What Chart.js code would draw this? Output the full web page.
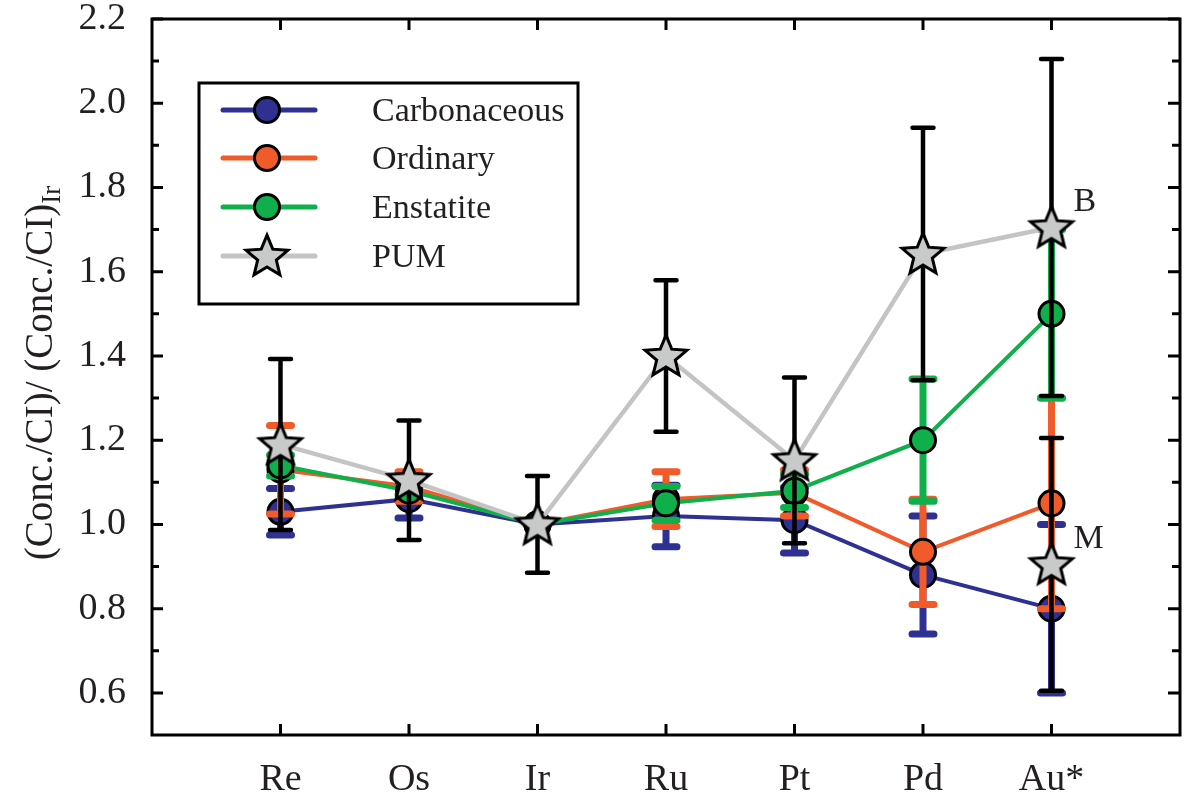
<!DOCTYPE html>
<html>
<head>
<meta charset="utf-8">
<style>
  html, body { margin: 0; padding: 0; background: #ffffff; }
  canvas { display: block; }
</style>
<script src="https://cdn.jsdelivr.net/npm/chart.js@4.4.1/dist/chart.umd.min.js"></script>
</head>
<body>
<canvas id="chart" width="1196" height="797"></canvas>
<script>
// Elements on the x axis, in plotting order
const categories = ['Re', 'Os', 'Ir', 'Ru', 'Pt', 'Pd', 'Au*'];

// Y axis tick values (labelled) and the unlabelled minor ticks between them
const yTickValues = [0.6, 0.8, 1.0, 1.2, 1.4, 1.6, 1.8, 2.0, 2.2];
const yMinorTickValues = [0.7, 0.9, 1.1, 1.3, 1.5, 1.7, 1.9, 2.1];

const seriesNames = ['Carbonaceous', 'Ordinary', 'Enstatite', 'PUM'];

// (Conc./CI)/(Conc./CI)Ir for each chondrite group, with 1-sigma errors
const carbonaceous    = [1.03, 1.06, 1.00, 1.02, 1.01, 0.88, 0.80];
const carbonaceousErr = [0.055, 0.045, 0, 0.073, 0.078, 0.14, 0.20];

const ordinary    = [1.13, 1.09, 1.00, 1.06, 1.075, 0.935, 1.05];
const ordinaryErr = [0.105, 0.035, 0, 0.065, 0.055, 0.125, 0.25];

const enstatite    = [1.14, 1.08, 1.00, 1.05, 1.08, 1.20, 1.50];
const enstatiteErr = [0.025, 0.01, 0, 0.04, 0.04, 0.145, 0.20];

// Primitive upper mantle; the Au* estimate is given twice (B and M)
const pum      = [1.19, 1.105, 1.00, 1.40, 1.152, 1.642, 1.705];
const pumErr   = [0.203, 0.142, 0.115, 0.18, 0.197, 0.30, 0.40];
const pumNotes = ['', '', '', '', '', '', 'B'];

const pumAlt      = [null, null, null, null, null, null, 0.905];
const pumAltErr   = [0, 0, 0, 0, 0, 0, 0.30];
const pumAltNotes = ['', '', '', '', '', '', 'M'];

const TEXT = '#231f20';
const SERIF = '"Liberation Serif", "Times New Roman", serif';

const toPoints = (arr) => arr.map((v, i) => ({ x: i, y: v }));

// Five-pointed star marker rendered once to an offscreen canvas
function makeStar(outerR, innerR, lw, fill) {
  const size = Math.ceil(2 * outerR + 2 * lw + 4);
  const c = document.createElement('canvas');
  c.width = size; c.height = size;
  const g = c.getContext('2d');
  const cx = size / 2, cy = size / 2 + outerR * 0.05;
  g.beginPath();
  for (let k = 0; k < 10; k++) {
    const r = k % 2 === 0 ? outerR : innerR;
    const a = -Math.PI / 2 + k * Math.PI / 5;
    const px = cx + r * Math.cos(a), py = cy + r * Math.sin(a);
    if (k === 0) g.moveTo(px, py); else g.lineTo(px, py);
  }
  g.closePath();
  g.fillStyle = fill;
  g.fill();
  g.lineJoin = 'miter';
  g.lineWidth = lw;
  g.strokeStyle = '#000000';
  g.stroke();
  return c;
}
const starMarker = makeStar(22, 9.8, 3, '#c8c9c9');

const COLORS = {
  blue: '#2e3192',
  orange: '#f15a29',
  green: '#0fb04b',
  gray: '#c4c4c4'
};

function circleSeries(label, values, errs, color, order) {
  return {
    label,
    data: toPoints(values),
    errors: errs,
    errorColor: color,
    errorWidth: 7,
    errorCapHalf: 11,
    borderColor: color,
    backgroundColor: color,
    borderWidth: 4,
    pointStyle: 'circle',
    pointRadius: 12.5,
    pointBorderWidth: 3,
    pointBorderColor: '#000000',
    pointBackgroundColor: color,
    order
  };
}

const datasets = [
  circleSeries(seriesNames[0], carbonaceous, carbonaceousErr, COLORS.blue, 5),
  circleSeries(seriesNames[1], ordinary, ordinaryErr, COLORS.orange, 4),
  circleSeries(seriesNames[2], enstatite, enstatiteErr, COLORS.green, 3),
  {
    label: seriesNames[3],
    data: toPoints(pum),
    errors: pumErr,
    errorColor: '#000000',
    errorWidth: 4.5,
    errorCapHalf: 10.5,
    notes: pumNotes,
    borderColor: COLORS.gray,
    backgroundColor: COLORS.gray,
    borderWidth: 4.5,
    pointStyle: starMarker,
    pointRadius: 22,
    order: 2
  },
  {
    label: 'PUM (M)',
    data: toPoints(pumAlt),
    errors: pumAltErr,
    errorColor: '#000000',
    errorWidth: 4.5,
    errorCapHalf: 10.5,
    notes: pumAltNotes,
    showLine: false,
    borderColor: COLORS.gray,
    backgroundColor: COLORS.gray,
    pointStyle: starMarker,
    pointRadius: 22,
    order: 1
  }
];

// Vertical error bars, drawn just before each dataset so markers sit on top
const errorBars = {
  id: 'errorBars',
  beforeDatasetDraw(chart, args) {
    const ds = chart.data.datasets[args.index];
    if (!ds.errors) return;
    const { ctx } = chart;
    const xs = chart.scales.x, ys = chart.scales.y;
    ctx.save();
    ctx.strokeStyle = ds.errorColor;
    ctx.lineWidth = ds.errorWidth;
    ds.data.forEach((p, i) => {
      const e = ds.errors[i];
      if (p.y == null || !e) return;
      const px = xs.getPixelForValue(p.x);
      const top = ys.getPixelForValue(p.y + e);
      const bot = ys.getPixelForValue(p.y - e);
      ctx.lineCap = 'butt';
      ctx.beginPath();
      ctx.moveTo(px, top); ctx.lineTo(px, bot);
      ctx.stroke();
      ctx.lineCap = 'round';
      ctx.beginPath();
      ctx.moveTo(px - ds.errorCapHalf, top); ctx.lineTo(px + ds.errorCapHalf, top);
      ctx.moveTo(px - ds.errorCapHalf, bot); ctx.lineTo(px + ds.errorCapHalf, bot);
      ctx.stroke();
    });
    ctx.restore();
  },
  afterDatasetsDraw(chart) {
    // letter notes beside annotated points
    const { ctx } = chart;
    const xs = chart.scales.x, ys = chart.scales.y;
    ctx.save();
    ctx.fillStyle = TEXT;
    ctx.font = `34px ${SERIF}`;
    ctx.textAlign = 'left';
    ctx.textBaseline = 'middle';
    chart.data.datasets.forEach((ds) => {
      if (!ds.notes) return;
      ds.data.forEach((p, i) => {
        const t = ds.notes[i];
        if (!t || p.y == null) return;
        ctx.fillText(t, xs.getPixelForValue(p.x) + 22, ys.getPixelForValue(p.y) - 25);
      });
    });
    ctx.restore();
  }
};

// Boxed frame with inward ticks on all four sides, y title and legend box
const frameTicks = {
  id: 'frameTicks',
  beforeDatasetsDraw(chart) {
    const { ctx, chartArea: a } = chart;
    const xs = chart.scales.x, ys = chart.scales.y;
    ctx.save();
    ctx.strokeStyle = '#000000';
    ctx.lineWidth = 3;
    ctx.lineCap = 'butt';
    ctx.strokeRect(a.left, a.top, a.right - a.left, a.bottom - a.top);
    ctx.beginPath();
    yTickValues.forEach((v) => {
      const py = ys.getPixelForValue(v);
      ctx.moveTo(a.left, py); ctx.lineTo(a.left + 11, py);
      ctx.moveTo(a.right, py); ctx.lineTo(a.right - 12, py);
    });
    yMinorTickValues.forEach((v) => {
      const py = ys.getPixelForValue(v);
      ctx.moveTo(a.left, py); ctx.lineTo(a.left + 7, py);
      ctx.moveTo(a.right, py); ctx.lineTo(a.right - 8, py);
    });
    categories.forEach((c, i) => {
      const px = xs.getPixelForValue(i);
      ctx.moveTo(px, a.bottom); ctx.lineTo(px, a.bottom - 11);
      ctx.moveTo(px, a.top); ctx.lineTo(px, a.top + 11);
    });
    ctx.stroke();
    ctx.restore();
  },
  afterDraw(chart) {
    const { ctx, chartArea: a } = chart;
    // rotated y-axis title with subscript
    ctx.save();
    const main = '(Conc./CI)/ (Conc./CI)';
    const sub = 'Ir';
    ctx.font = `39px ${SERIF}`;
    const w1 = ctx.measureText(main).width;
    ctx.font = `27px ${SERIF}`;
    const w2 = ctx.measureText(sub).width;
    ctx.translate(39, (a.top + a.bottom) / 2 - 4);
    ctx.rotate(-Math.PI / 2);
    ctx.fillStyle = TEXT;
    ctx.textBaseline = 'alphabetic';
    ctx.textAlign = 'left';
    const start = -(w1 + w2) / 2;
    ctx.font = `39px ${SERIF}`;
    ctx.fillText(main, start, 13);
    ctx.font = `27px ${SERIF}`;
    ctx.fillText(sub, start + w1, 21);
    ctx.restore();

    // legend box
    ctx.save();
    const box = { l: 199, t: 83, r: 578, b: 304 };
    ctx.fillStyle = '#ffffff';
    ctx.fillRect(box.l, box.t, box.r - box.l, box.b - box.t);
    ctx.strokeStyle = '#000000';
    ctx.lineWidth = 3;
    ctx.strokeRect(box.l, box.t, box.r - box.l, box.b - box.t);
    const rows = [110, 158, 207, 256];
    for (let i = 0; i < 4; i++) {
      const ds = chart.data.datasets[i];
      const y = rows[i];
      ctx.strokeStyle = ds.borderColor;
      ctx.lineWidth = 5;
      ctx.lineCap = 'round';
      ctx.beginPath();
      ctx.moveTo(223, y); ctx.lineTo(315, y);
      ctx.stroke();
      if (ds.pointStyle === 'circle') {
        ctx.fillStyle = ds.pointBackgroundColor;
        ctx.strokeStyle = '#000000';
        ctx.lineWidth = 3;
        ctx.beginPath();
        ctx.arc(267, y, 12.5, 0, Math.PI * 2);
        ctx.fill();
        ctx.stroke();
      } else {
        ctx.drawImage(ds.pointStyle, 267 - ds.pointStyle.width / 2, y - ds.pointStyle.height / 2);
      }
      ctx.fillStyle = TEXT;
      ctx.font = `34px ${SERIF}`;
      ctx.textAlign = 'left';
      ctx.textBaseline = 'middle';
      ctx.fillText(ds.label, 372, y + 2);
    }
    ctx.restore();
  }
};

new Chart(document.getElementById('chart'), {
  type: 'line',
  data: { datasets },
  options: {
    responsive: false,
    animation: false,
    devicePixelRatio: 1,
    layout: { autoPadding: false, padding: { left: 0, top: 19, right: 16, bottom: 0 } },
    elements: { line: { tension: 0 } },
    plugins: { legend: { display: false }, tooltip: { enabled: false } },
    scales: {
      x: {
        type: 'linear',
        min: -1,
        max: 7,
        afterBuildTicks: (s) => { s.ticks = categories.map((c, i) => ({ value: i })); },
        afterFit: (s) => { s.height = 62; s.paddingLeft = 0; s.paddingRight = 0; },
        grid: { display: false, drawTicks: false },
        border: { display: false },
        ticks: {
          autoSkip: false,
          maxRotation: 0,
          padding: 22,
          color: TEXT,
          font: { family: SERIF, size: 38 },
          callback: (v) => categories[v] ?? ''
        }
      },
      y: {
        type: 'linear',
        min: 0.5,
        max: 2.2,
        afterBuildTicks: (s) => { s.ticks = yTickValues.map((v) => ({ value: v })); },
        afterFit: (s) => { s.width = 152; s.paddingTop = 0; s.paddingBottom = 0; },
        grid: { display: false, drawTicks: false },
        border: { display: false },
        ticks: {
          padding: 26,
          color: TEXT,
          font: { family: SERIF, size: 38 },
          callback: (v) => Number(v).toFixed(1)
        }
      }
    }
  },
  plugins: [errorBars, frameTicks]
});
</script>
</body>
</html>
